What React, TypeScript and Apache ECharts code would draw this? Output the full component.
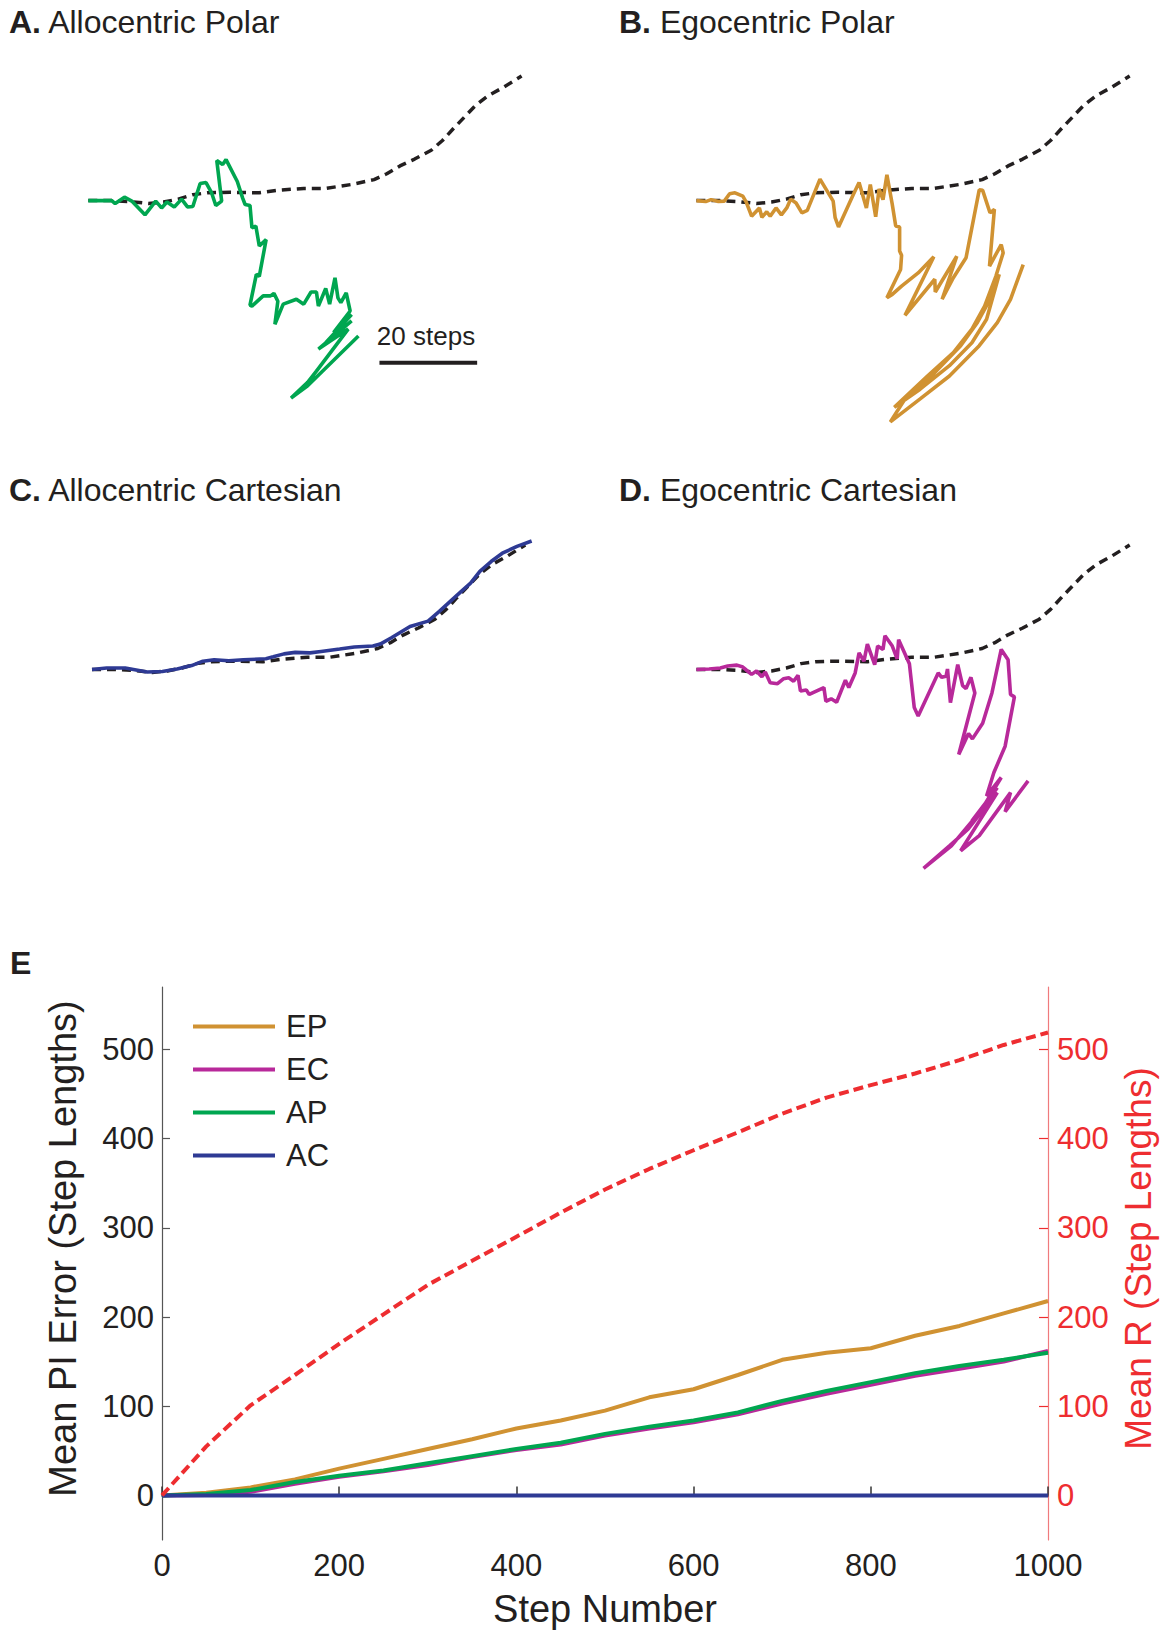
import React, { useEffect, useRef } from "react";
import * as echarts from "echarts";

// ---------- Panels A–D: trajectories in step units (origin = start point) ----------
const goalPath: number[][] = [
  [0, 0], [4.8, 0], [8.6, -0.2], [12.3, -0.6], [15.4, -0.3], [18.4, 0.3], [21.4, 1.2],
  [24.4, 1.6], [29.0, 1.7], [35.0, 1.6], [38.8, 2.1], [44.1, 2.5], [48.6, 2.5], [53.9, 3.3],
  [58.5, 4.3], [61.1, 5.5], [63.8, 7.1], [66.8, 8.5], [70.2, 10.3], [72.5, 12.3], [74.7, 14.7],
  [77.0, 17.1], [79.3, 19.5], [81.9, 21.5], [85.0, 23.2], [88.7, 25.5],
];

const apPath: number[][] = [
  [0, 0], [4.8, 0], [5.5, -0.6], [7.4, 0.7], [8.9, -0.1], [11.6, -2.9], [13.8, -0.1],
  [15.0, -1.5], [16.1, -0.3], [17.6, -1.3], [19.1, 0.3], [20.3, -1.3], [21.4, -1.2],
  [22.9, 3.5], [24.1, 3.7], [25.2, 1.7], [26.1, -1.0], [27.3, -0.1], [26.3, 8.2], [27.5, 7.4],
  [28.2, 8.4], [30.5, 3.9], [31.6, 0.5], [32.1, -0.8], [33.1, -1.0], [33.5, -5.6], [34.3, -5.2],
  [35.0, -9.3], [36.4, -8.0], [35.0, -15.5], [34.4, -15.1], [33.1, -21.4], [33.5, -21.6],
  [35.8, -19.5], [37.3, -19.5], [38.0, -19.0], [38.8, -20.6], [38.2, -25.3], [39.9, -21.2],
  [42.6, -20.2], [44.1, -21.2], [45.6, -18.7], [46.7, -18.7], [47.1, -21.6], [48.6, -18.0],
  [49.4, -21.2], [50.5, -15.8], [51.1, -19.9], [51.7, -20.9], [52.8, -18.9], [53.6, -22.6],
  [50.2, -27.0], [53.9, -23.3], [48.6, -29.1], [53.9, -24.6], [47.1, -30.4], [53.2, -26.3],
  [46.7, -34.9], [44.9, -37.2], [41.5, -40.4], [44.9, -37.9], [55.3, -27.7],
];

const epPath: number[][] = [
  [0, 0], [1.9, -0.2], [3.0, 0.2], [4.5, -0.2], [5.7, -0.1], [6.8, 1.4], [7.9, 1.6], [9.5, 0.9],
  [10.2, -0.3], [11.3, -3.2], [12.9, -1.5], [13.4, -3.4], [14.4, -2.3], [15.1, -3.2],
  [16.3, -1.5], [17.4, -2.9], [18.5, -1.5], [19.3, 0.3], [20.4, -0.5], [21.6, -2.5],
  [22.7, -2.0], [25.3, 4.4], [28.0, -0.1], [28.4, -3.5], [29.1, -5.4], [32.1, 1.2], [33.3, 3.7],
  [34.8, -1.5], [35.6, 3.3], [36.7, -3.3], [37.4, 2.4], [38.2, 0.2], [39.0, 5.3], [40.1, -0.8],
  [40.8, -5.2], [41.6, -5.4], [41.6, -10.3], [42.0, -11.2], [41.8, -14.1], [39.0, -19.9],
  [40.1, -19.2], [42.0, -17.5], [45.4, -14.8], [48.6, -11.5], [42.7, -23.5], [48.8, -16.1],
  [48.9, -18.7], [53.3, -11.4], [50.3, -20.2], [52.6, -15.8], [55.2, -11.7], [57.9, 2.2],
  [58.6, 2.1], [60.1, -2.5], [61.0, -1.8], [60.0, -13.4], [62.4, -9.0], [62.8, -10.7],
  [61.3, -15.5], [59.0, -21.6], [56.4, -26.3], [52.6, -31.1], [47.3, -35.9], [40.5, -42.3],
  [45.8, -38.6], [51.8, -33.8], [56.4, -29.1], [59.4, -24.3], [62.0, -15.1], [60.1, -20.2],
  [57.5, -25.0], [54.1, -29.7], [48.8, -35.2], [42.7, -40.6], [39.7, -45.3], [45.8, -40.6],
  [51.8, -35.9], [57.9, -29.7], [61.6, -25.0], [64.3, -20.2], [66.9, -13.1],
];

const acPath: number[][] = [
  [0, 0], [3.0, 0.3], [6.8, 0.3], [11.3, -0.5], [14.4, -0.4], [17.4, 0.1], [20.4, 0.8],
  [22.7, 1.7], [25.0, 2.0], [28.0, 1.8], [31.0, 2.0], [35.6, 2.2], [37.1, 2.6], [39.3, 3.2],
  [41.6, 3.5], [44.6, 3.4], [46.9, 3.7], [50.7, 4.2], [53.7, 4.6], [57.5, 4.8], [59.0, 5.2],
  [61.3, 6.5], [65.1, 8.8], [68.8, 9.9], [71.1, 11.9], [73.4, 14.0], [75.6, 16.0], [77.5, 17.7],
  [79.4, 20.1], [81.7, 22.1], [84.0, 23.8], [87.0, 25.2], [90.0, 26.3],
];

const ecPath: number[][] = [
  [0, 0], [2.6, 0.1], [4.9, 0.3], [6.4, 0.7], [8.3, 0.9], [9.5, 0.5], [10.2, -0.1], [11.3, -1.0],
  [12.3, -0.3], [13.4, -1.5], [14.1, -0.5], [15.1, -2.7], [16.6, -2.9], [17.8, -1.9],
  [18.9, -1.7], [19.9, -2.4], [20.8, -1.2], [21.3, -4.4], [22.5, -4.2], [23.1, -5.1],
  [26.1, -3.7], [26.5, -6.5], [27.6, -6.0], [28.7, -6.7], [30.5, -2.2], [31.2, -3.7],
  [32.5, -0.7], [33.3, 3.4], [34.3, 1.7], [35.0, 5.2], [36.5, 1.0], [37.1, 4.8], [38.2, 4.1],
  [38.6, 6.9], [40.1, 4.8], [41.1, 2.2], [41.4, 6.1], [43.6, 1.2], [44.6, -7.8], [45.4, -9.5],
  [49.5, -0.7], [50.2, -1.6], [51.1, -1.4], [51.4, 0.1], [52.0, -6.8], [53.5, 1.0], [54.5, -3.3],
  [55.2, -3.9], [56.2, -1.6], [57.0, -4.8], [53.7, -17.4], [55.7, -13.1], [56.5, -14.2],
  [58.6, -11.0], [60.5, -4.8], [62.4, 4.1], [63.8, 2.0], [64.3, -5.1], [65.1, -5.6],
  [63.2, -15.7], [60.9, -21.1], [59.4, -25.9], [62.4, -22.1], [58.6, -28.3], [61.6, -24.2],
  [56.4, -31.0], [60.9, -25.9], [55.6, -32.7], [51.8, -36.1], [46.5, -40.7], [52.2, -36.1],
  [57.9, -29.3], [61.6, -25.2], [54.1, -37.1], [57.9, -34.0], [64.3, -25.2], [63.2, -29.1],
  [67.9, -22.8],
];

const scaleBar: number[][] = [[59.6, -33.2], [79.6, -33.2]];

// ---------- Panel E ----------
const stepNumbers = [0, 50, 100, 150, 200, 250, 300, 350, 400, 450, 500, 550, 600, 650, 700, 750, 800, 850, 900, 950, 1000];
const epError = [0, 3, 9, 18, 30, 41, 52, 63, 75, 84, 95, 110, 119, 135, 152, 160, 165, 179, 190, 204, 218];
const ecError = [0, 0.5, 4, 13, 21, 27, 34, 43, 51, 57, 67, 75, 82, 91, 103, 114, 124, 134, 142, 150, 162];
const apError = [0, 1.5, 6, 15, 22, 28, 36, 44, 52, 59, 69, 77, 84, 93, 106, 117, 127, 137, 145, 152, 160];
const acError = [0, 0, 0, 0, 0, 0, 0, 0, 0, 0, 0, 0, 0, 0, 0, 0, 0, 0, 0, 0, 0];
const meanR = [0, 55, 101, 135, 170, 203, 236, 263, 290, 317, 343, 366, 387, 407, 428, 446, 460, 473, 488, 505, 519];
const yTicks = [0, 100, 200, 300, 400, 500];

const FONT = "'Liberation Sans', Arial, Helvetica, sans-serif";
const INK = "#231f20";
const C_EP = "#D09232";
const C_EC = "#B8299A";
const C_AP = "#00A650";
const C_AC = "#2E3A94";
const C_R = "#EE2D30";

const S = 4.885; // px per step
const X_MIN = -5;
const X_MAX = 94;
const Y_MIN = -50;
const Y_MAX = 30;
const origins = [
  [88.3, 200.6],
  [696.4, 200.6],
  [92.0, 669.5],
  [696.4, 669.5],
];

function buildOption() {
  const grids: any[] = origins.map(([ox, oy]) => ({
    left: ox + X_MIN * S,
    top: oy - Y_MAX * S,
    width: (X_MAX - X_MIN) * S,
    height: (Y_MAX - Y_MIN) * S,
    outerBoundsMode: "none",
    containLabel: false,
  }));
  grids.push({ left: 162, top: 987, width: 886, height: 553, outerBoundsMode: "none", containLabel: false });

  const xAxes: any[] = origins.map((_, i) => ({
    gridIndex: i, type: "value", min: X_MIN, max: X_MAX, show: false,
  }));
  const yAxes: any[] = origins.map((_, i) => ({
    gridIndex: i, type: "value", min: Y_MIN, max: Y_MAX, show: false,
  }));

  xAxes.push({
    gridIndex: 4, type: "value", min: 0, max: 1000, interval: 200,
    axisLine: { show: true, lineStyle: { color: "#333", width: 1.5 } },
    axisTick: { show: true, inside: true, length: 9, lineStyle: { color: "#333", width: 1.5 } },
    axisLabel: { fontSize: 31, color: INK, margin: 10, fontFamily: FONT, formatter: (v: number) => String(v) },
    splitLine: { show: false },
    name: "Step Number", nameLocation: "middle", nameGap: 50,
    nameTextStyle: { fontSize: 38, color: INK, fontFamily: FONT },
  });
  yAxes.push({
    gridIndex: 4, type: "value", position: "left", min: -50, max: 570,
    axisLine: { show: true, lineStyle: { color: "#555", width: 1.2 } },
    axisTick: { show: true, inside: true, length: 8, customValues: yTicks, lineStyle: { color: "#555", width: 1.2 } },
    axisLabel: { fontSize: 31, color: INK, margin: 8, customValues: yTicks, fontFamily: FONT, formatter: (v: number) => String(v) },
    splitLine: { show: false },
    name: "Mean PI Error (Step Lengths)", nameLocation: "middle", nameGap: 80,
    nameTextStyle: { fontSize: 38, color: INK, fontFamily: FONT, padding: [0, 0, 0, 30] },
  });
  yAxes.push({
    gridIndex: 4, type: "value", position: "right", min: -50, max: 570,
    axisLine: { show: true, lineStyle: { color: "#F07A7C", width: 1.2 } },
    axisTick: { show: true, inside: true, length: 9, customValues: yTicks, lineStyle: { color: C_R, width: 1.2 } },
    axisLabel: { fontSize: 31, color: C_R, margin: 9, customValues: yTicks, fontFamily: FONT, formatter: (v: number) => String(v) },
    splitLine: { show: false },
    name: "Mean R (Step Lengths)", nameLocation: "middle", nameGap: 70,
    nameTextStyle: { fontSize: 37, color: C_R, fontFamily: FONT, padding: [0, 0, 0, 10] },
  });

  const path = (idx: number, data: number[][], color: string, dashed: boolean) => ({
    type: "line", xAxisIndex: idx, yAxisIndex: idx, data, symbol: "none", silent: true,
    clip: false, z: dashed ? 2 : 3,
    lineStyle: { color, width: dashed ? 3.5 : 3.6, type: dashed ? [9, 6] : "solid" },
  });

  const series: any[] = [
    path(0, goalPath, INK, true), path(0, apPath, C_AP, false),
    path(1, goalPath, INK, true), path(1, epPath, C_EP, false),
    path(2, goalPath, INK, true), path(2, acPath, C_AC, false),
    path(3, goalPath, INK, true), path(3, ecPath, C_EC, false),
    {
      type: "line", xAxisIndex: 0, yAxisIndex: 0, data: scaleBar, symbol: "none", silent: true,
      clip: false, lineStyle: { color: INK, width: 4 },
    },
  ];

  const pair = (arr: number[]) => stepNumbers.map((s, i) => [s, arr[i]]);
  const eLine = (name: string, arr: number[], color: string, yIdx: number, dashed = false) => ({
    name, type: "line", xAxisIndex: 4, yAxisIndex: yIdx, data: pair(arr), symbol: "none",
    color, silent: true,
    lineStyle: { color, width: 4, type: dashed ? [10, 5] : "solid" },
  });
  series.push(
    eLine("EP", epError, C_EP, 4),
    eLine("EC", ecError, C_EC, 4),
    eLine("AP", apError, C_AP, 4),
    eLine("AC", acError, C_AC, 4),
    eLine("Mean R", meanR, C_R, 5, true),
  );

  const mkTitle = (letter: string, text: string, left: number, top: number) => ({
    text: text ? `{b|${letter}} ${text}` : `{b|${letter}}`,
    left, top, padding: 0,
    textStyle: {
      fontSize: 32, fontWeight: "normal", color: INK, fontFamily: FONT, lineHeight: 32,
      rich: { b: { fontSize: 32, fontWeight: "bold", color: INK, fontFamily: FONT, lineHeight: 32 } },
    },
  });

  return {
    animation: false,
    backgroundColor: "#ffffff",
    textStyle: { fontFamily: FONT },
    title: [
      mkTitle("A.", "Allocentric Polar", 9, 6),
      mkTitle("B.", "Egocentric Polar", 619, 6),
      mkTitle("C.", "Allocentric Cartesian", 9, 474),
      mkTitle("D.", "Egocentric Cartesian", 619, 474),
      mkTitle("E", "", 10, 947),
    ],
    legend: {
      data: ["EP", "EC", "AP", "AC"],
      orient: "vertical", left: 193, top: 1011, padding: 0,
      icon: "rect", itemWidth: 82, itemHeight: 4, itemGap: 12,
      selectedMode: false,
      textStyle: { fontSize: 31, color: INK, fontFamily: FONT, padding: [0, 0, 0, 6] },
    },
    grid: grids,
    xAxis: xAxes,
    yAxis: yAxes,
    series,
    graphic: [
      {
        type: "text", x: 426, y: 336, silent: true,
        style: { text: "20 steps", fontSize: 26, fill: INK, fontFamily: FONT, textAlign: "center", textVerticalAlign: "middle" },
      },
    ],
  };
}

export default function App() {
  const ref = useRef<HTMLDivElement>(null);
  useEffect(() => {
    if (!ref.current) return;
    const chart = echarts.init(ref.current, null, { renderer: "svg" });
    chart.setOption(buildOption() as any);
    return () => chart.dispose();
  }, []);
  return (
    <div
      ref={ref}
      style={{ position: "absolute", left: 0, top: 0, width: 1162, height: 1630, background: "#fff" }}
    />
  );
}
